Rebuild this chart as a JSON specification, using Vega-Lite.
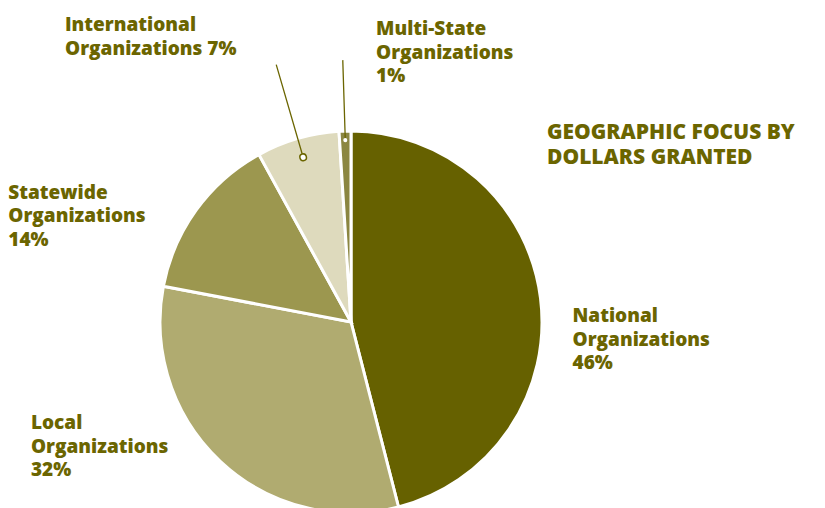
{
  "$schema": "https://vega.github.io/schema/vega-lite/v6.json",
  "width": 702,
  "height": 644,
  "autosize": "none",
  "padding": {"left": 0, "top": 0, "right": 123, "bottom": -136},
  "background": "white",
  "config": {
    "view": {"stroke": null},
    "text": {"font": "Open Sans", "fontWeight": 800, "fontSize": 19, "color": "#6b6500", "lineBreak": "\n", "lineHeight": 23.5, "align": "left", "baseline": "alphabetic"}
  },
  "title": {
    "text": ["GEOGRAPHIC FOCUS BY", "DOLLARS GRANTED"],
    "anchor": "start",
    "frame": "group",
    "orient": "top",
    "offset": 0,
    "dx": 547,
    "dy": 185,
    "align": "left",
    "baseline": "alphabetic",
    "font": "Open Sans",
    "fontWeight": 800,
    "fontSize": 21,
    "lineHeight": 25.5,
    "color": "#6b6500"
  },
  "data": {
    "values": [
      {"category": "National", "label": "National\nOrganizations\n46%", "percent": 46, "rank": 1},
      {"category": "Local", "label": "Local\nOrganizations\n32%", "percent": 32, "rank": 2},
      {"category": "Statewide", "label": "Statewide\nOrganizations\n14%", "percent": 14, "rank": 3},
      {"category": "International", "label": "International\nOrganizations 7%", "percent": 7, "rank": 4},
      {"category": "Multi-State", "label": "Multi-State\nOrganizations\n1%", "percent": 1, "rank": 5}
    ]
  },
  "encoding": {
    "theta": {"field": "percent", "type": "quantitative", "stack": true},
    "order": {"field": "rank", "type": "quantitative"}
  },
  "layer": [
    {
      "mark": {"type": "arc", "outerRadius": 191, "stroke": "white", "strokeWidth": 3},
      "encoding": {
        "color": {
          "field": "category",
          "type": "nominal",
          "scale": {
            "domain": ["National", "Local", "Statewide", "International", "Multi-State"],
            "range": ["#666100", "#b0ab70", "#9c974f", "#dedabd", "#8b8641"]
          },
          "legend": null
        }
      }
    },
    {
      "mark": {"type": "arc", "filled": false, "outerRadius": 268, "innerRadius": 171, "padAngle": 3, "strokeWidth": 1.3, "color": "#6b6500"},
      "encoding": {"opacity": {"condition": {"test": "datum.category === 'International'", "value": 1}, "value": 0}}
    },
    {
      "mark": {"type": "arc", "filled": false, "outerRadius": 171.6, "innerRadius": 171.4, "padAngle": 3, "strokeWidth": 8, "strokeCap": "round", "strokeJoin": "round", "color": "#6b6500"},
      "encoding": {"opacity": {"condition": {"test": "datum.category === 'International'", "value": 1}, "value": 0}}
    },
    {
      "mark": {"type": "arc", "filled": false, "outerRadius": 171.6, "innerRadius": 171.4, "padAngle": 3, "strokeWidth": 5, "strokeCap": "round", "strokeJoin": "round", "color": "white"},
      "encoding": {"opacity": {"condition": {"test": "datum.category === 'International'", "value": 1}, "value": 0}}
    },
    {
      "mark": {"type": "arc", "filled": false, "outerRadius": 262, "innerRadius": 182, "padAngle": 3, "strokeWidth": 1.3, "color": "#6b6500"},
      "encoding": {"opacity": {"condition": {"test": "datum.category === 'Multi-State'", "value": 1}, "value": 0}}
    },
    {
      "mark": {"type": "arc", "filled": false, "outerRadius": 182.1, "innerRadius": 181.9, "padAngle": 3, "strokeWidth": 4, "strokeCap": "round", "strokeJoin": "round", "color": "white"},
      "encoding": {"opacity": {"condition": {"test": "datum.category === 'Multi-State'", "value": 1}, "value": 0}}
    },
    {
      "mark": {"type": "text", "radius": 190, "dx": 33, "dy": 24},
      "encoding": {"text": {"condition": {"test": "datum.category === 'National'", "field": "label"}, "value": ""}}
    },
    {
      "mark": {"type": "text", "radius": 190, "dx": -190, "dy": -31.5},
      "encoding": {"text": {"condition": {"test": "datum.category === 'Local'", "field": "label"}, "value": ""}}
    },
    {
      "mark": {"type": "text", "radius": 190, "dx": -189, "dy": -11.5},
      "encoding": {"text": {"condition": {"test": "datum.category === 'Statewide'", "field": "label"}, "value": ""}}
    },
    {
      "mark": {"type": "text", "radius": 190, "dx": -233, "dy": -108.5},
      "encoding": {"text": {"condition": {"test": "datum.category === 'International'", "field": "label"}, "value": ""}}
    },
    {
      "mark": {"type": "text", "radius": 190, "dx": 31, "dy": -97},
      "encoding": {"text": {"condition": {"test": "datum.category === 'Multi-State'", "field": "label"}, "value": ""}}
    }
  ]
}
